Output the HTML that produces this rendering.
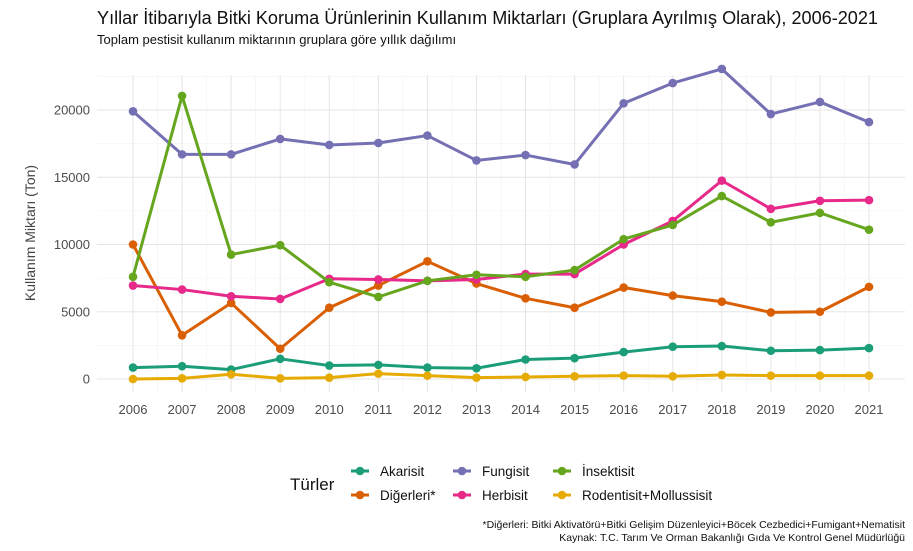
<!DOCTYPE html>
<html><head><meta charset="utf-8">
<style>
body{margin:0;background:#fff;font-family:"Liberation Sans",sans-serif;}
svg{display:block}
text{font-family:"Liberation Sans",sans-serif;}
</style></head>
<body>
<svg id="chart" width="913" height="551" viewBox="0 0 913 551">
<text x="97" y="24" font-size="18.1" fill="#111">Yıllar İtibarıyla Bitki Koruma Ürünlerinin Kullanım Miktarları (Gruplara Ayrılmış Olarak), 2006-2021</text>
<text x="97" y="44" font-size="13" fill="#111">Toplam pestisit kullanım miktarının gruplara göre yıllık dağılımı</text>
<g id="grid"></g>
<g id="series"></g>
<g id="axes"></g>
<text transform="translate(35,233) rotate(-90)" text-anchor="middle" font-size="14" fill="#444">Kullanım Miktarı (Ton)</text>
<g id="legend"></g>
<text x="905" y="528" text-anchor="end" font-size="10.5" fill="#111">*Diğerleri: Bitki Aktivatörü+Bitki Gelişim Düzenleyici+Böcek Cezbedici+Fumigant+Nematisit</text>
<text x="905" y="541" text-anchor="end" font-size="10.5" fill="#111">Kaynak: T.C. Tarım Ve Orman Bakanlığı Gıda Ve Kontrol Genel Müdürlüğü</text>
</svg>
<script>
const years=[2006,2007,2008,2009,2010,2011,2012,2013,2014,2015,2016,2017,2018,2019,2020,2021];
const yTicks=[0,5000,10000,15000,20000];
const seriesNames=["Akarisit","Diğerleri*","Fungisit","Herbisit","İnsektisit","Rodentisit+Mollussisit"];
const akarisit=[850,950,700,1500,1000,1050,850,800,1450,1550,2000,2400,2450,2100,2150,2300];
const digerleri=[10000,3250,5650,2250,5300,6950,8750,7100,6000,5300,6800,6200,5750,4950,5000,6850];
const fungisit=[19900,16700,16700,17850,17400,17550,18100,16250,16650,15950,20500,22000,23050,19700,20600,19100];
const herbisit=[6950,6650,6150,5950,7450,7400,7300,7400,7800,7800,10000,11750,14750,12650,13250,13300];
const insektisit=[7600,21050,9250,9950,7200,6100,7300,7750,7600,8100,10400,11450,13600,11650,12350,11100];
const rodentisit=[0,50,350,50,100,400,250,100,150,200,250,200,300,250,250,250];
const colors=["#1B9E77","#D95F02","#7570B3","#E7298A","#66A61E","#E6AB02"];
const allSeries=[akarisit,digerleri,fungisit,herbisit,insektisit,rodentisit];
const NS="http://www.w3.org/2000/svg";
const X0=133,X1=869,Y0=379,YPER=269/20000,PT=75,PB=392,PL=97,PR=905;
const xs=i=>X0+(X1-X0)*i/(years.length-1);
const ys=v=>Y0-v*YPER;
function mk(tag,attrs,parent){const e=document.createElementNS(NS,tag);for(const k in attrs)e.setAttribute(k,attrs[k]);parent.appendChild(e);return e;}
const grid=document.getElementById('grid'),axes=document.getElementById('axes'),ser=document.getElementById('series'),leg=document.getElementById('legend');
for(let v=2500;v<=22500;v+=5000){const y=ys(v);if(y<PT)continue;const l=mk('line',{x1:PL,x2:PR,y1:y,y2:y,stroke:'#f2f2f2','stroke-width':0.6},grid);
}
for(let i=0;i<years.length-1;i++){const x=(xs(i)+xs(i+1))/2;const l=mk('line',{x1:x,x2:x,y1:PT,y2:PB,stroke:'#f2f2f2','stroke-width':0.6},grid);
}
yTicks.forEach(v=>{const y=ys(v);const l=mk('line',{x1:PL,x2:PR,y1:y,y2:y,stroke:'#e6e6e6','stroke-width':1},grid);

const t=mk('text',{x:90,y:y+4.5,'text-anchor':'end','font-size':13,fill:'#4d4d4d'},axes);t.textContent=v;
});
years.forEach((yr,i)=>{const x=xs(i);const l=mk('line',{x1:x,x2:x,y1:PT,y2:PB,stroke:'#e6e6e6','stroke-width':1},grid);

const t=mk('text',{x:x,y:414,'text-anchor':'middle','font-size':13,fill:'#4d4d4d'},axes);t.textContent=yr;
});
allSeries.forEach((d,s)=>{const g=mk('g',{},ser);

const p=mk('polyline',{points:d.map((v,i)=>xs(i)+','+ys(v)).join(' '),fill:'none',stroke:colors[s],'stroke-width':3,'stroke-linejoin':'round'},g);

d.forEach((v,i)=>{const c=mk('circle',{cx:xs(i),cy:ys(v),r:4.3,fill:colors[s]},g);
});});
const lt=mk('text',{x:290,y:490,'font-size':17,fill:'#111'},leg);lt.textContent='Türler';

const pos=[[360,471],[360,495],[462,471],[462,495],[562,471],[562,495]];
seriesNames.forEach((n,s)=>{const [x,y]=pos[s];const g=mk('g',{},leg);

mk('line',{x1:x-9,x2:x+9,y1:y,y2:y,stroke:colors[s],'stroke-width':3},g);
mk('circle',{cx:x,cy:y,r:4.3,fill:colors[s]},g);
const t=mk('text',{x:x+20,y:y+5,'font-size':13.5,fill:'#111'},g);t.textContent=n;});
</script>
</body></html>
